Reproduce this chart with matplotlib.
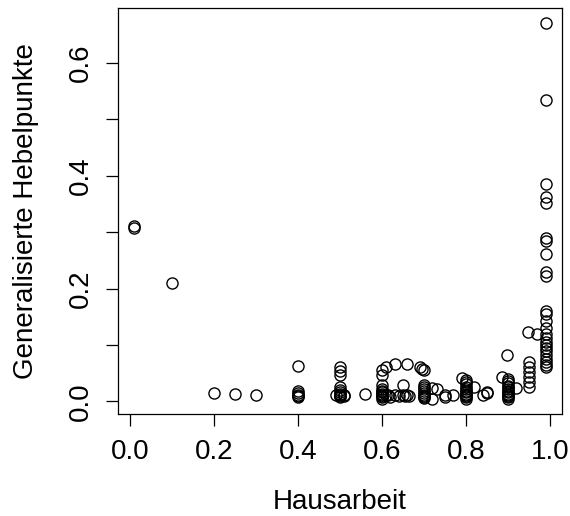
import matplotlib
matplotlib.use("Agg")
import matplotlib.pyplot as plt

# Generalized leverage values by share of housework
hausarbeit = [
    0.01, 0.01, 0.10, 0.20, 0.25, 0.30,
    0.40, 0.40, 0.40, 0.40, 0.40, 0.40,
    0.49, 0.50, 0.50, 0.50, 0.50, 0.50, 0.50, 0.50, 0.50, 0.50, 0.50,
    0.51, 0.51, 0.56,
    0.60, 0.60, 0.60, 0.60, 0.60, 0.60, 0.60, 0.60, 0.60, 0.60, 0.60,
    0.61, 0.61, 0.615, 0.62, 0.63, 0.63, 0.64, 0.65, 0.65, 0.655,
    0.66, 0.66, 0.665, 0.69, 0.695,
    0.70, 0.70, 0.70, 0.70, 0.70, 0.70, 0.70, 0.70, 0.70, 0.70,
    0.72, 0.72, 0.73, 0.75, 0.75, 0.77, 0.79,
    0.80, 0.80, 0.80, 0.80, 0.80, 0.80, 0.80, 0.80, 0.80, 0.80, 0.80, 0.80,
    0.82, 0.84, 0.85, 0.85, 0.885, 0.897,
    0.90, 0.90, 0.90, 0.90, 0.90, 0.90, 0.90, 0.90, 0.90, 0.90, 0.90, 0.90, 0.90,
    0.92, 0.947,
    0.95, 0.95, 0.95, 0.95, 0.95, 0.95, 0.968,
    0.99, 0.99, 0.99, 0.99, 0.99, 0.99, 0.99, 0.99, 0.99, 0.99,
    0.99, 0.99, 0.99, 0.99, 0.99, 0.99, 0.99, 0.99, 0.99, 0.99,
    0.99, 0.99, 0.99, 0.99, 0.99,
]
hebelpunkte = [
    0.310, 0.307, 0.210, 0.014, 0.013, 0.012,
    0.063, 0.018, 0.015, 0.012, 0.010, 0.008,
    0.012, 0.061, 0.054, 0.047, 0.026, 0.020, 0.016, 0.013, 0.011, 0.009, 0.008,
    0.012, 0.009, 0.013,
    0.055, 0.047, 0.029, 0.022, 0.019, 0.016, 0.013, 0.011, 0.009, 0.007, 0.005,
    0.061, 0.012, 0.011, 0.008, 0.066, 0.012, 0.010, 0.029, 0.011, 0.009,
    0.066, 0.012, 0.010, 0.061, 0.058,
    0.055, 0.029, 0.026, 0.022, 0.018, 0.015, 0.012, 0.010, 0.008, 0.006,
    0.023, 0.005, 0.022, 0.011, 0.008, 0.012, 0.041,
    0.038, 0.034, 0.030, 0.026, 0.022, 0.019, 0.016, 0.013, 0.011, 0.009, 0.007, 0.005,
    0.026, 0.012, 0.017, 0.014, 0.043, 0.082,
    0.040, 0.036, 0.032, 0.028, 0.025, 0.022, 0.019, 0.016, 0.013, 0.011, 0.009, 0.007, 0.005,
    0.024, 0.123,
    0.070, 0.061, 0.052, 0.044, 0.035, 0.026, 0.119,
    0.670, 0.535, 0.386, 0.362, 0.352, 0.290, 0.285, 0.262, 0.230, 0.222,
    0.160, 0.155, 0.142, 0.130, 0.120, 0.112, 0.105, 0.100, 0.095, 0.090,
    0.082, 0.075, 0.070, 0.065, 0.060,
]

x_ticks = [0.0, 0.2, 0.4, 0.6, 0.8, 1.0]
y_ticks = [0.0, 0.1, 0.2, 0.3, 0.4, 0.5, 0.6]
y_tick_labels = ["0.0", "", "0.2", "", "0.4", "", "0.6"]

plt.rcParams["font.family"] = ["Liberation Sans", "DejaVu Sans"]

fig = plt.figure(figsize=(5.70, 5.16), dpi=100)
ax = fig.add_axes([0.2065, 0.1986, 0.78, 0.7851])

ax.plot(hausarbeit, hebelpunkte, linestyle="none", marker="o",
        markersize=8.0, markerfacecolor="none", markeredgecolor="black",
        markeredgewidth=1.0)

# data range padded by 4% on each side
def padded(vals):
    lo, hi = min(vals), max(vals)
    d = (hi - lo) * 0.04
    return lo - d, hi + d

ax.set_xlim(*padded(hausarbeit))
ax.set_ylim(*padded(hebelpunkte))

ax.set_xticks(x_ticks)
ax.set_xticklabels([f"{t:.1f}" for t in x_ticks])
ax.set_yticks(y_ticks)
ax.set_yticklabels(y_tick_labels)
for lab in ax.get_yticklabels():
    lab.set_rotation(90)
    lab.set_va("center")

ax.tick_params(axis="both", direction="out", length=8.5, width=0.9,
               labelsize=20, color="black")
ax.tick_params(axis="x", pad=10)
ax.tick_params(axis="y", pad=9)

for sp in ax.spines.values():
    sp.set_linewidth(0.9)

ax.set_xlabel("Hausarbeit", fontsize=20)
ax.set_ylabel("Generalisierte Hebelpunkte", fontsize=20)
ax.xaxis.set_label_coords(0.5, -0.186)
ax.yaxis.set_label_coords(-0.178, 0.5)

fig.savefig("out.png", dpi=100)
